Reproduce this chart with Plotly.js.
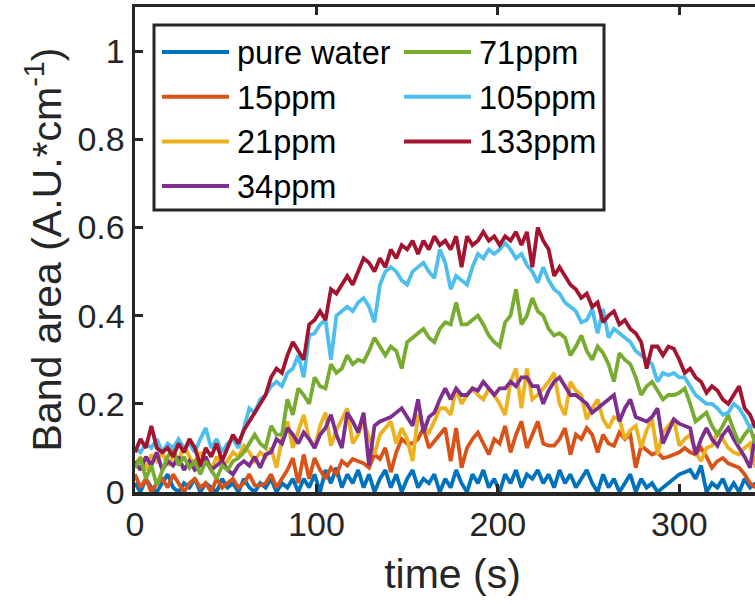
<!DOCTYPE html>
<html>
<head>
<meta charset="utf-8">
<script src="https://cdn.plot.ly/plotly-3.0.1.min.js"></script>
<style>
html, body { margin: 0; padding: 0; overflow: hidden; background: #fff; }
#chart { width: 800px; height: 604px; }
</style>
</head>
<body>
<div id="chart"></div>
<script>
// time samples (s)
const time = [0,3,6,9,12,15,18,21,24,27,30,33,36,39,42,45,48,51,54,57,60,63,66,69,72,75,78,81,84,87,
90,93,96,99,102,105,108,111,114,117,120,123,126,129,132,135,138,141,144,147,150,153,156,159,162,165,168,171,174,177,
180,183,186,189,192,195,198,201,204,207,210,213,216,219,222,225,228,231,234,237,240,243,246,249,252,255,258,261,264,267,
270,273,276,279,282,285,288,291,294,297,300,303,306,309,312,315,318,321,324,327,330,333,336,339,342];

const seriesNames = ["pure water","15ppm","21ppm","34ppm","71ppm","105ppm","133ppm"];
const seriesColors = ["#0072BD","#D95319","#EDB120","#7E2F8E","#77AC30","#4DBEEE","#A2142F"];

const pureWater = [0.02,0.00,0.03,0.01,0.00,0.02,0.04,0.01,0.00,0.02,
0.01,0.03,0.00,0.02,0.01,0.00,0.03,0.01,0.02,0.00,
0.03,0.01,0.00,0.02,0.01,0.03,0.00,0.02,0.01,0.03,
0.00,0.03,0.01,0.04,0.00,0.05,0.02,0.055,0.01,0.04,
0.02,0.05,0.01,0.04,0.00,0.03,0.05,0.01,0.04,0.00,
0.03,0.05,0.01,0.03,0.02,0.04,0.00,0.03,0.01,0.05,
0.02,0.00,0.04,0.02,0.05,0.01,0.03,0.00,0.04,0.02,
0.05,0.01,0.04,0.03,0.05,0.02,0.04,0.01,0.05,0.02,
0.04,0.01,0.03,0.05,0.02,0.00,0.04,0.01,0.03,0.00,
0.02,0.04,0.00,0.03,0.01,0.02,0.00,0.01,0.02,0.03,
0.04,0.045,0.05,0.03,0.06,0.00,0.02,0.01,0.03,0.00,
0.02,0.00,0.03,0.01,0.02];

const ppm15 = [0.04,0.01,0.03,0.00,0.02,0.03,0.01,0.04,0.02,0.00,
0.02,0.03,0.01,0.02,0.00,0.03,0.01,0.02,0.03,0.01,
0.02,0.04,0.015,0.015,0.02,0.04,0.01,0.03,0.05,0.077,
0.02,0.085,0.03,0.077,0.05,0.03,0.055,0.04,0.07,0.06,
0.075,0.07,0.065,0.055,0.085,0.075,0.10,0.045,0.09,0.12,
0.11,0.11,0.12,0.145,0.10,0.115,0.13,0.145,0.07,0.145,
0.055,0.10,0.12,0.135,0.11,0.085,0.12,0.11,0.15,0.09,
0.13,0.16,0.10,0.13,0.16,0.11,0.105,0.105,0.12,0.145,
0.085,0.13,0.12,0.145,0.13,0.09,0.13,0.11,0.105,0.135,
0.12,0.13,0.055,0.105,0.095,0.085,0.09,0.077,0.08,0.085,
0.09,0.10,0.09,0.085,0.10,0.08,0.055,0.07,0.077,0.065,
0.06,0.055,0.04,0.02,0.01];

const ppm21 = [0.06,0.08,0.05,0.085,0.07,0.09,0.06,0.08,0.07,0.105,
0.08,0.06,0.09,0.07,0.05,0.08,0.06,0.07,0.09,0.08,
0.105,0.09,0.07,0.09,0.08,0.10,0.055,0.12,0.16,0.10,
0.14,0.175,0.12,0.10,0.15,0.18,0.105,0.14,0.165,0.19,
0.11,0.13,0.16,0.12,0.085,0.13,0.145,0.16,0.11,0.145,
0.12,0.07,0.175,0.15,0.135,0.16,0.19,0.19,0.175,0.235,
0.20,0.22,0.235,0.22,0.21,0.235,0.22,0.20,0.175,0.25,
0.28,0.19,0.28,0.21,0.22,0.235,0.25,0.27,0.20,0.175,
0.25,0.23,0.22,0.165,0.19,0.21,0.165,0.145,0.17,0.165,
0.12,0.14,0.15,0.10,0.14,0.165,0.085,0.135,0.15,0.165,
0.105,0.12,0.13,0.09,0.07,0.10,0.105,0.135,0.12,0.10,
0.09,0.085,0.10,0.11,0.055];

const ppm34 = [0.07,0.05,0.08,0.06,0.09,0.05,0.07,0.06,0.08,0.05,
0.07,0.05,0.06,0.08,0.05,0.06,0.07,0.05,0.04,0.06,
0.07,0.06,0.08,0.055,0.085,0.09,0.12,0.11,0.145,0.13,
0.11,0.135,0.12,0.10,0.13,0.145,0.175,0.13,0.10,0.18,
0.16,0.135,0.18,0.06,0.15,0.16,0.165,0.17,0.18,0.19,
0.17,0.15,0.21,0.135,0.17,0.18,0.21,0.235,0.21,0.235,
0.22,0.22,0.235,0.23,0.25,0.235,0.22,0.235,0.235,0.25,
0.24,0.26,0.26,0.24,0.24,0.20,0.23,0.25,0.26,0.24,
0.22,0.22,0.21,0.20,0.18,0.19,0.20,0.21,0.22,0.16,
0.19,0.21,0.17,0.165,0.16,0.17,0.19,0.11,0.14,0.165,
0.155,0.15,0.145,0.085,0.12,0.145,0.12,0.105,0.13,0.145,
0.12,0.10,0.08,0.055,0.13];

const ppm71 = [0.055,0.077,0.03,0.06,0.016,0.05,0.08,0.10,0.06,0.08,
0.055,0.07,0.04,0.07,0.05,0.03,0.06,0.05,0.07,0.077,
0.09,0.11,0.13,0.11,0.10,0.15,0.13,0.13,0.21,0.175,
0.235,0.22,0.20,0.26,0.24,0.235,0.29,0.27,0.28,0.31,
0.29,0.30,0.295,0.32,0.35,0.33,0.31,0.33,0.32,0.28,
0.34,0.35,0.36,0.37,0.35,0.34,0.37,0.385,0.38,0.43,
0.38,0.38,0.39,0.40,0.38,0.355,0.34,0.33,0.385,0.40,
0.46,0.38,0.40,0.44,0.41,0.40,0.37,0.355,0.36,0.35,
0.31,0.33,0.355,0.32,0.30,0.33,0.315,0.29,0.25,0.315,
0.30,0.29,0.26,0.22,0.24,0.25,0.23,0.21,0.22,0.22,
0.225,0.235,0.20,0.16,0.17,0.18,0.15,0.13,0.15,0.175,
0.14,0.11,0.13,0.145,0.11];

const ppm105 = [0.10,0.09,0.11,0.10,0.12,0.09,0.11,0.10,0.12,0.10,
0.11,0.09,0.12,0.145,0.10,0.12,0.09,0.11,0.12,0.10,
0.145,0.19,0.18,0.21,0.22,0.24,0.25,0.24,0.27,0.28,
0.31,0.26,0.355,0.36,0.38,0.39,0.30,0.40,0.41,0.42,
0.41,0.43,0.44,0.42,0.385,0.47,0.50,0.51,0.50,0.48,
0.47,0.50,0.51,0.52,0.50,0.485,0.55,0.52,0.46,0.49,
0.48,0.47,0.51,0.54,0.53,0.55,0.54,0.55,0.565,0.55,
0.53,0.54,0.515,0.50,0.475,0.51,0.48,0.46,0.45,0.43,
0.42,0.41,0.385,0.39,0.415,0.36,0.415,0.35,0.37,0.36,
0.35,0.34,0.32,0.31,0.30,0.29,0.25,0.27,0.265,0.27,
0.26,0.26,0.24,0.22,0.21,0.20,0.20,0.19,0.175,0.18,
0.20,0.19,0.17,0.145,0.16];

const ppm133 = [0.09,0.12,0.10,0.15,0.10,0.09,0.10,0.08,0.11,0.09,
0.12,0.10,0.06,0.10,0.08,0.11,0.07,0.10,0.13,0.11,
0.14,0.16,0.18,0.20,0.22,0.26,0.28,0.27,0.31,0.34,
0.32,0.30,0.38,0.39,0.41,0.39,0.46,0.45,0.47,0.49,
0.47,0.50,0.53,0.52,0.50,0.53,0.51,0.55,0.53,0.56,
0.55,0.57,0.54,0.57,0.55,0.58,0.56,0.57,0.55,0.58,
0.51,0.58,0.56,0.57,0.59,0.57,0.58,0.56,0.58,0.57,
0.59,0.56,0.59,0.51,0.60,0.57,0.55,0.49,0.51,0.49,
0.47,0.46,0.44,0.45,0.42,0.43,0.385,0.40,0.41,0.38,
0.39,0.37,0.36,0.34,0.28,0.33,0.33,0.31,0.33,0.325,
0.30,0.27,0.28,0.26,0.25,0.225,0.24,0.23,0.21,0.20,
0.22,0.24,0.19,0.175,0.145];

const seriesValues = [pureWater, ppm15, ppm21, ppm34, ppm71, ppm105, ppm133];

const xTicks = [0, 100, 200, 300];
const yTicks = [0, 0.2, 0.4, 0.6, 0.8, 1];
const yTickText = ["0", "0.2", "0.4", "0.6", "0.8", "1"];

const FONT = "Liberation Sans, Arial, Helvetica, sans-serif";
const INK = "#262626";

// plot-area geometry (pixels) used to place the boxed legend
const PLOT_L = 135, PLOT_W = 635, PLOT_T = 7, PLOT_H = 485;
const px2x = p => (p - PLOT_L) / PLOT_W;
const py2y = p => (PLOT_T + PLOT_H - p) / PLOT_H;

const traces = seriesNames.map((name, i) => ({
  x: time,
  y: seriesValues[i],
  type: "scatter",
  mode: "lines",
  name: name,
  showlegend: false,
  line: { color: seriesColors[i], width: 3.8 }
}));

// legend: two columns, first four entries in column 1
const legBox = { l: 154, r: 604, t: 25, b: 210 };
const colLineX = [162, 404];
const lineLen = 67;
const textGap = 6;
const rowY0 = 52, rowStep = 44.7;

const shapes = [{
  type: "rect", xref: "paper", yref: "paper",
  x0: px2x(legBox.l), x1: px2x(legBox.r), y0: py2y(legBox.b), y1: py2y(legBox.t),
  line: { color: INK, width: 3 }, fillcolor: "#ffffff", layer: "above"
}];
const annotations = [];
seriesNames.forEach((name, i) => {
  const col = i < 4 ? 0 : 1;
  const row = i < 4 ? i : i - 4;
  const yy = rowY0 + row * rowStep;
  shapes.push({
    type: "line", xref: "paper", yref: "paper",
    x0: px2x(colLineX[col]), x1: px2x(colLineX[col] + lineLen),
    y0: py2y(yy), y1: py2y(yy),
    line: { color: seriesColors[i], width: 4 }, layer: "above"
  });
  annotations.push({
    xref: "paper", yref: "paper",
    x: px2x(colLineX[col] + lineLen + textGap), y: py2y(yy + 1),
    xanchor: "left", yanchor: "middle",
    text: name, showarrow: false,
    font: { family: FONT, size: 32.5, color: "#000000" }
  });
});

const layout = {
  width: 800,
  height: 604,
  margin: { l: PLOT_L, r: 800 - PLOT_L - PLOT_W, t: PLOT_T, b: 604 - PLOT_T - PLOT_H },
  paper_bgcolor: "#ffffff",
  plot_bgcolor: "#ffffff",
  font: { family: FONT, color: INK, size: 34 },
  showlegend: false,
  shapes: shapes,
  annotations: annotations,
  xaxis: {
    range: [0, 350],
    tickmode: "array",
    tickvals: xTicks,
    ticks: "inside",
    ticklen: 8,
    tickwidth: 3,
    tickcolor: INK,
    showline: true,
    linecolor: INK,
    linewidth: 3.5,
    mirror: "ticks",
    showgrid: false,
    zeroline: false,
    layer: "above traces",
    tickfont: { family: FONT, size: 34, color: INK },
    title: { text: "time (s)", font: { family: FONT, size: 41, color: INK }, standoff: 18 }
  },
  yaxis: {
    range: [0, 1.1],
    tickmode: "array",
    tickvals: yTicks,
    ticktext: yTickText,
    ticks: "inside",
    ticklen: 8,
    tickwidth: 3,
    tickcolor: INK,
    showline: true,
    linecolor: INK,
    linewidth: 3.5,
    mirror: "ticks",
    showgrid: false,
    zeroline: false,
    layer: "above traces",
    tickfont: { family: FONT, size: 34, color: INK },
    title: { text: "Band area (A.U.*cm<sup>-1</sup>)", font: { family: FONT, size: 41, color: INK }, standoff: 4 }
  }
};

Plotly.newPlot("chart", traces, layout, { staticPlot: true, displayModeBar: false });
</script>
</body>
</html>
